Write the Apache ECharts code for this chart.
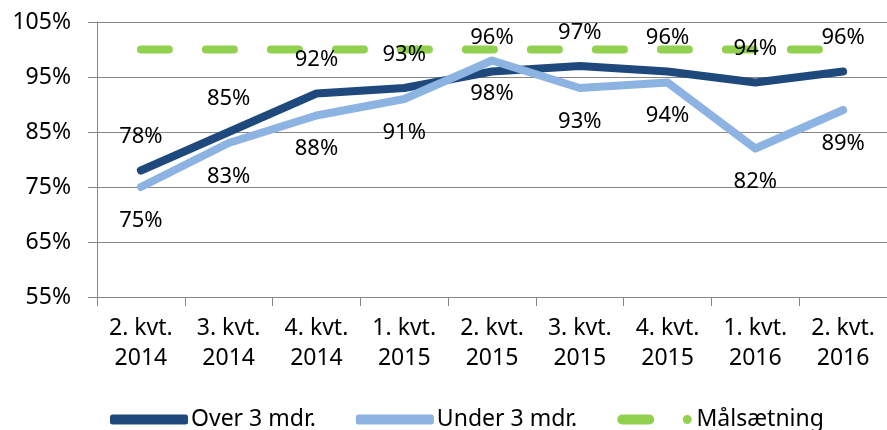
<!DOCTYPE html>
<html>
<head>
<meta charset="utf-8">
<script src="https://cdn.jsdelivr.net/npm/echarts@6/dist/echarts.min.js"></script>
<style>
html, body { margin: 0; padding: 0; background: #fff; }
#chart { width: 887px; height: 430px; }
</style>
</head>
<body>
<div id="chart"></div>
<script>
// kvartaler
var categories = ['2. kvt.\n2014', '3. kvt.\n2014', '4. kvt.\n2014', '1. kvt.\n2015', '2. kvt.\n2015',
                  '3. kvt.\n2015', '4. kvt.\n2015', '1. kvt.\n2016', '2. kvt.\n2016'];
var over3 = [78, 85, 92, 93, 96, 97, 96, 94, 96];
var under3 = [75, 83, 88, 91, 98, 93, 94, 82, 89];
var maal = [100, 100, 100, 100, 100, 100, 100, 100, 100];
var seriesNames = ['Over 3 mdr.', 'Under 3 mdr.', 'Målsætning'];

var FONT = 'Noto Sans';
var chart = echarts.init(document.getElementById('chart'));

function lblFormatter(p) { return p.value + '%'; }

chart.setOption({
    animation: false,
    backgroundColor: '#fff',
    grid: { left: 97, right: -9, top: 22, bottom: 133 },
    legend: {
        left: 105,
        top: 403,
        itemWidth: 78,
        itemHeight: 10,
        itemGap: 40,
        textStyle: { fontFamily: FONT, fontSize: 23, color: '#000', padding: [0, 0, 0, -2] },
        data: [
            { name: seriesNames[0], icon: 'roundRect' },
            { name: seriesNames[1], icon: 'roundRect' },
            { name: seriesNames[2], icon: 'path://M5,0H32A5,5,0,0,1,32,10H5A5,5,0,0,1,5,0ZM70,0.5A4.5,4.5,0,1,1,70,9.5A4.5,4.5,0,1,1,70,0.5Z' }
        ]
    },
    xAxis: {
        type: 'category',
        data: categories,
        boundaryGap: true,
        axisLine: { lineStyle: { color: '#868686', width: 1 } },
        axisTick: { show: true, length: 9, lineStyle: { color: '#868686' } },
        axisLabel: { fontFamily: FONT, fontSize: 23, color: '#000', lineHeight: 30, margin: 16 }
    },
    yAxis: {
        type: 'value',
        min: 55,
        max: 105,
        interval: 10,
        axisLine: { show: true, lineStyle: { color: '#868686', width: 1 } },
        axisTick: { show: true, length: 9, lineStyle: { color: '#868686' } },
        splitLine: { show: true, lineStyle: { color: '#868686', width: 1 } },
        axisLabel: { fontFamily: FONT, fontSize: 23, color: '#000', margin: 26, formatter: '{value}%' }
    },
    series: [{
        name: seriesNames[0],
        type: 'line',
        data: over3,
        z: 2,
        color: '#1F497D',
        symbol: 'circle',
        symbolSize: 1,
        lineStyle: { width: 8, color: '#1F497D', cap: 'round', join: 'round' },
        label: { show: true, position: 'top', distance: 22, fontFamily: FONT, fontSize: 22, color: '#000', formatter: lblFormatter }
    }, {
        name: seriesNames[1],
        type: 'line',
        data: under3,
        z: 3,
        color: '#8DB3E2',
        symbol: 'circle',
        symbolSize: 1,
        lineStyle: { width: 8, color: '#8DB3E2', cap: 'round', join: 'round' },
        label: { show: true, position: 'bottom', distance: 22, fontFamily: FONT, fontSize: 22, color: '#000', formatter: lblFormatter }
    }, {
        name: seriesNames[2],
        type: 'line',
        data: maal,
        z: 1,
        color: '#92D050',
        symbol: 'none',
        lineStyle: { width: 8, color: '#92D050', type: [28, 37], cap: 'round' }
    }]
});
</script>
</body>
</html>
